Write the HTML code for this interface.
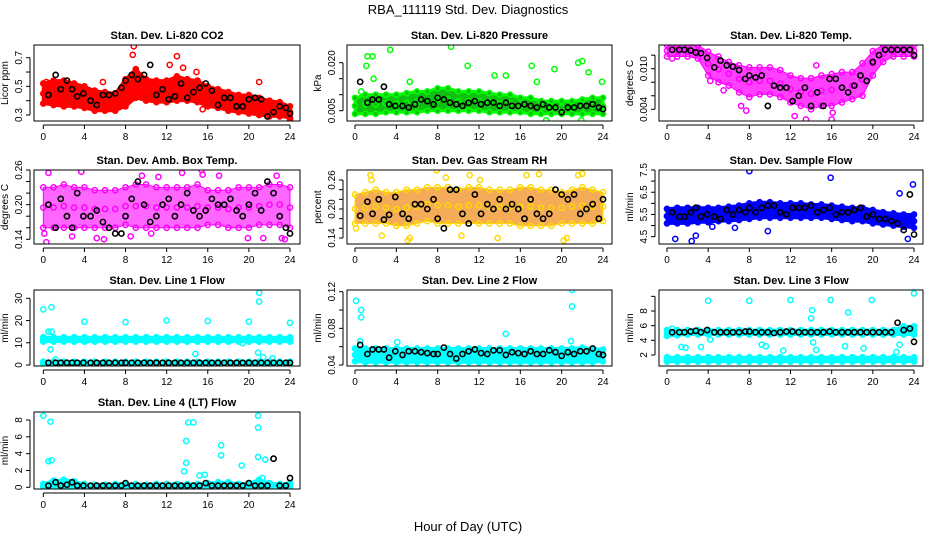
<!DOCTYPE html>
<html><head><meta charset="utf-8"><style>
body{margin:0;background:#fff}
svg{display:block;font-family:"Liberation Sans",sans-serif}
</style></head><body>
<svg id="c" width="936" height="540" viewBox="0 0 936 540">
<text x="468" y="14" text-anchor="middle" font-size="13">RBA_111119  Std. Dev. Diagnostics</text>
<text x="468" y="531" text-anchor="middle" font-size="13">Hour of Day (UTC)</text>
</svg>
<script>
const hours=[0,1,2,3,4,5,6,7,8,9,10,11,12,13,14,15,16,17,18,19,20,21,22,23,24];
const xTicks=[0,4,8,12,16,20,24];
const blkX=[0.5,1.2,1.7,2.3,2.8,3.3,3.9,4.6,5.2,5.8,6.4,7.0,7.6,8.0,8.6,9.2,9.8,10.4,11.0,11.6,12.2,12.8,13.4,14.0,14.6,15.2,15.8,16.4,17.0,17.6,18.2,18.8,19.4,20.0,20.6,21.2,21.8,22.4,23.0,23.6,24.0];

const co2Lo=[.38,.37,.36,.36,.35,.33,.33,.33,.36,.42,.40,.39,.39,.40,.40,.39,.36,.35,.33,.32,.31,.30,.29,.29,.28];
const co2Hi=[.52,.54,.54,.52,.50,.47,.46,.45,.55,.62,.55,.54,.54,.57,.55,.54,.50,.48,.46,.44,.44,.42,.40,.39,.36];
const co2OutX=[8.8,8.7,13,12.3,13.6,21,24,15.5,14.9,0.3,5.8];
const co2OutY=[.78,.72,.71,.65,.63,.53,.27,.34,.60,.53,.53];
const co2Blk=[.44,.58,.48,.54,.48,.43,.45,.40,.37,.44,.44,.45,.49,.54,.58,.55,.58,.65,.44,.48,.41,.43,.52,.42,.46,.49,.52,.47,.37,.42,.42,.36,.36,.41,.42,.41,.29,.32,.36,.35,.31];

const presLo=[.004,.004,.004,.0045,.0045,.0045,.0045,.005,.005,.005,.005,.005,.005,.0045,.0045,.0045,.0045,.004,.004,.004,.004,.004,.004,.004,.004];
const presHi=[.009,.010,.010,.010,.010,.0105,.011,.011,.012,.012,.011,.011,.011,.0105,.010,.010,.009,.009,.008,.008,.008,.008,.0085,.009,.009];
const presOutX=[1.2,1.7,1.1,3.4,1.8,9.3,10.9,13.5,14.6,17.1,17.6,19.3,21.6,22,22.6,23.9,18.5,21.9,0.6,5.3];
const presOutY=[.022,.022,.019,.024,.015,.025,.019,.016,.016,.019,.014,.018,.020,.0205,.017,.014,.002,.002,.011,.014];
const presBlk=[.014,.0075,.0085,.0085,.0125,.007,.0065,.0065,.006,.007,.0085,.008,.007,.009,.0085,.0075,.007,.0065,.0075,.008,.007,.0075,.0075,.0065,.0075,.0065,.0065,.007,.0065,.006,.007,.006,.006,.0045,.006,.006,.0065,.0065,.007,.006,.0055];

const tempLo=[.0118,.0118,.0118,.0115,.009,.008,.0075,.0065,.0058,.0062,.0062,.0058,.005,.0045,.004,.0045,.0045,.005,.0055,.006,.009,.011,.0118,.0118,.0118];
const tempHi=[.0135,.0135,.0135,.0135,.0125,.0118,.011,.0105,.0102,.0102,.0102,.0098,.009,.0086,.0086,.009,.0092,.0095,.0095,.0108,.0126,.0135,.0135,.0135,.0135];
const tempOutX=[0.5,4.2,5.5,7.2,7.7,13.5,16,16.1,12.4,14.5];
const tempOutY=[.0115,.0082,.0068,.0045,.0038,.0025,.0025,.0035,.0030,.0105];
const tempBlk=[.0128,.0128,.0128,.0127,.0124,.0123,.0116,.0102,.0112,.0105,.0103,.0098,.0085,.009,.0087,.009,.0045,.0075,.0072,.0072,.0052,.006,.0072,.0045,.0065,.0045,.0085,.0085,.0072,.0065,.0075,.009,.0082,.011,.012,.0128,.0128,.0128,.0128,.0128,.012];

const ambLo=[.16,.16,.16,.16,.16,.16,.16,.16,.165,.16,.16,.16,.16,.16,.16,.16,.165,.165,.16,.16,.16,.165,.165,.165,.16];
const ambHi=[.23,.23,.235,.23,.23,.225,.225,.225,.23,.235,.235,.23,.23,.23,.23,.235,.225,.225,.225,.23,.23,.23,.235,.235,.23];
const ambOutX=[0.1,0.3,0.5,3.7,5.2,5.9,9.6,10.5,11.2,13.5,15.4,15.5,17.1,19.9,21.4,22.7,23.2,23.5,2.8,8.5];
const ambOutY=[.15,.135,.255,.257,.142,.14,.25,.15,.248,.255,.26,.252,.25,.142,.142,.25,.142,.14,.145,.145];
const ambBlk=[.20,.16,.21,.18,.16,.22,.18,.18,.19,.17,.16,.15,.15,.18,.21,.24,.20,.17,.18,.20,.21,.18,.20,.22,.19,.18,.19,.21,.20,.20,.21,.19,.18,.20,.22,.19,.24,.22,.18,.16,.15];

const rhLo=[.17,.17,.17,.17,.165,.165,.17,.175,.17,.17,.17,.17,.17,.17,.17,.17,.165,.165,.165,.165,.17,.17,.17,.17,.175];
const rhHi=[.23,.235,.24,.235,.235,.24,.24,.245,.245,.245,.24,.245,.245,.24,.24,.24,.245,.245,.24,.24,.235,.24,.245,.24,.235];
const rhOutX=[0.1,1.5,1.6,5.1,5.3,7.9,8.8,11.1,12.1,13.8,16.6,17.8,20.2,20.5,21.6,22.0,2.6,10.3];
const rhOutY=[.16,.27,.26,.135,.14,.28,.265,.27,.26,.14,.27,.272,.135,.14,.27,.273,.145,.145];
const rhBlk=[.186,.215,.19,.22,.178,.188,.225,.19,.18,.21,.21,.20,.22,.18,.16,.24,.24,.19,.17,.23,.19,.21,.20,.22,.20,.21,.20,.18,.22,.19,.18,.19,.24,.23,.22,.23,.19,.20,.21,.18,.22];

const flowLo=[5.1,5.1,5.1,5.15,5.15,5.2,5.2,5.25,5.3,5.35,5.35,5.35,5.35,5.35,5.35,5.35,5.3,5.25,5.2,5.2,5.1,5.05,5.0,4.95,4.9];
const flowHi=[5.75,5.8,5.8,5.8,5.8,5.8,5.85,5.9,6.0,6.05,6.05,6.0,6.0,6.0,5.95,5.95,5.9,5.85,5.8,5.8,5.7,5.6,5.55,5.5,5.5];
const flowOutX=[8,15.9,23.9,22.6,0.8,2.4,2.8,9.8,6.6,4.4,23.4];
const flowOutY=[7.45,7.15,6.85,6.45,4.4,4.3,4.55,4.75,4.9,4.95,4.4];
const flowBlk=[5.6,5.4,5.4,5.6,5.8,5.4,5.5,5.4,5.3,5.7,5.5,5.7,5.6,5.8,5.6,5.8,5.9,5.9,5.6,5.5,5.8,5.8,5.8,5.9,5.6,5.7,5.8,5.5,5.6,5.6,5.7,5.8,5.4,5.5,5.3,5.3,5.2,5.1,4.8,6.4,4.6];

const l1Lo=[10.5,10.5,10.5,10.5,10.5,10.5,10.5,10.5,10.5,10.5,10.5,10.5,10.5,10.5,10.5,10.5,10.5,10.5,10.5,10.5,10.5,10.5,10.5,10.5,10.5];
const l1Hi=[12.5,12.5,12.5,12.5,12.5,12.5,12.5,12.5,12.5,12.5,12.5,12.5,12.5,12.5,12.5,12.5,12.5,12.5,12.5,12.5,12.5,12.5,12.5,12.5,12.5];
const l1Lo2=[0.5,0.5,0.5,0.5,0.5,0.5,0.5,0.5,0.5,0.5,0.5,0.5,0.5,0.5,0.5,0.5,0.5,0.5,0.5,0.5,0.5,0.5,0.5,0.5,0.5];
const l1Hi2=[1.5,1.5,1.5,1.5,1.5,1.5,1.5,1.5,1.5,1.5,1.5,1.5,1.5,1.5,1.5,1.5,1.5,1.5,1.5,1.5,1.5,1.5,1.5,1.5,1.5];
const l1OutX=[0,0.8,0.5,0.8,0.7,1.2,4,8,12,14.8,16,19.4,20,21,21,20.9,21.4,22.3,24];
const l1OutY=[25,26,15,15,7,2.5,19.5,19.3,20,5,19.8,9.8,19.5,32.5,28.5,5.5,3.5,3,19];
const l1Blk=[1,1,1,1,1,1,1,1,1,1,1,1,1,1,1,1,1,1,1,1,1,1,1,1,1,1,1,1,1,1,1,1,1,1,1,1,1,1,1,1,1];

const l2Lo=[.044,.043,.043,.043,.043,.043,.043,.043,.043,.043,.043,.043,.043,.043,.043,.043,.043,.043,.043,.043,.043,.043,.043,.043,.044];
const l2Hi=[.058,.058,.058,.058,.058,.058,.058,.058,.058,.058,.058,.058,.058,.058,.058,.058,.058,.058,.058,.058,.058,.058,.059,.058,.057];
const l2OutX=[0.1,0.6,0.6,0.5,4.1,14.6,21,21,20.9];
const l2OutY=[.11,.10,.092,.066,.065,.074,.122,.104,.066];
const l2Blk=[.062,.052,.057,.057,.057,.048,.055,.051,.055,.055,.054,.053,.052,.052,.059,.052,.047,.052,.055,.057,.053,.052,.056,.056,.051,.054,.053,.052,.055,.052,.052,.056,.054,.050,.054,.052,.055,.055,.058,.052,.051];

const l3Lo=[4.6,4.7,4.8,4.8,4.8,4.8,4.8,4.8,4.8,4.8,4.8,4.8,4.8,4.8,4.8,4.8,4.8,4.8,4.8,4.8,4.8,4.8,4.8,4.8,4.8];
const l3Hi=[5.4,5.4,5.4,5.4,5.4,5.4,5.4,5.4,5.4,5.4,5.4,5.4,5.4,5.4,5.4,5.4,5.4,5.4,5.4,5.4,5.4,5.4,5.4,5.9,5.9];
const l3Lo2=[1.1,1.1,1.1,1.1,1.1,1.1,1.1,1.1,1.1,1.1,1.1,1.1,1.1,1.1,1.1,1.1,1.1,1.1,1.1,1.1,1.1,1.1,1.1,1.1,1.1];
const l3Hi2=[1.7,1.7,1.7,1.7,1.7,1.7,1.7,1.7,1.7,1.7,1.7,1.7,1.7,1.7,1.7,1.7,1.7,1.7,1.7,1.7,1.7,1.7,1.7,1.7,1.7];
const l3OutX=[4,8,12,15.9,19.9,24,14.1,14,17.6,1.4,1.8,3.3,9.2,9.6,11.3,14.2,14.5,17.3,19.1,22.3,22.6,0.5,4.2];
const l3OutY=[9.4,9.4,9.5,9.5,9.5,10.4,8.1,7,7.8,3.1,3,3.1,3.4,3.2,2.6,3.7,2.7,3.2,2.9,2.4,3.4,5.6,4.1];
const l3Blk=[5.1,5.1,5.1,5.2,5.3,5.1,5.4,5.1,5.1,5.1,5.1,5.1,5.2,5.2,5.1,5.1,5.1,5.0,5.1,5.2,5.2,5.1,5.1,5.1,5.1,5.1,5.2,5.1,5.1,5.1,5.1,5.1,5.1,5.1,5.1,5.1,5.1,6.4,5.4,5.6,3.8];

const l4Lo=[0,0,0,0,0,0,0,0,0,0,0,0,0,0,0,0,0,0,0,0,0,0,0,0,0];
const l4Hi=[0.4,0.8,0.9,0.7,0.4,0.3,0.3,0.4,0.4,0.4,0.3,0.4,0.4,0.4,0.4,0.4,0.5,0.6,0.6,0.4,0.5,0.9,0.5,0.4,0.5];
const l4OutX=[0,0.7,0.5,0.8,14.1,13.9,13.9,13.7,14.6,15.2,15.7,17.3,17.3,19.3,20.9,20.9,20.9,21.3,21.6];
const l4OutY=[8.5,7.8,3.1,3.2,7.7,5.5,2.9,1.9,7.7,1.4,1.5,5,3.8,2.6,8.5,7.1,3.6,1.1,3.3];
const l4Blk=[.2,.6,.2,.3,.6,.2,.2,.2,.2,.2,.2,.2,.2,.5,.2,.2,.2,.2,.2,.2,.2,.2,.2,.2,.2,.2,.5,.2,.2,.2,.2,.2,.2,.5,.2,.2,.2,3.4,.2,.2,1.1];

const NS='http://www.w3.org/2000/svg';
const svg=document.getElementById('c');
function mk(tag,attrs,parent){const e=document.createElementNS(NS,tag);for(const k in attrs)e.setAttribute(k,attrs[k]);(parent||svg).appendChild(e);return e;}
const cols=[[34,300,43.3,290],[347,612,355,603],[659,923,667,914]];
const rows=[[45,121],[170,244],[290,366],[412,489]];

function panel(o){
  const [bl,br,x0,x24]=cols[o.c];const [bt,bb]=rows[o.r];
  const g=mk('g',{});
  
  
  const sx=h=>x0+(x24-x0)*h/24;
  const sy=v=>o.p0+(o.p1-o.p0)*(v-o.v0)/(o.v1-o.v0);
  const cid='clip'+o.name;
  const cp=mk('clipPath',{id:cid},g);mk('rect',{x:bl,y:bt,width:br-bl,height:bb-bt},cp);
  const pg=mk('g',{'clip-path':'url(#'+cid+')'},g);
  const fo=o.fo||1;
  o.bands.forEach(([lo,hi])=>{
    let pts=hours.map((h,i)=>sx(h)+','+sy(hi[i]));
    pts=pts.concat(hours.slice().reverse().map((h,j)=>{const i=hours.length-1-j;return sx(h)+','+sy(lo[i]);}));
    const b=mk('polygon',{points:pts.join(' '),fill:o.fill,'fill-opacity':fo,stroke:o.col,'stroke-width':fo<1?1:3,'stroke-linejoin':'round'},pg);
    
    
    hours.forEach((h,i)=>{[lo[i],hi[i],(lo[i]+hi[i])/2].forEach(v=>{
      const c=mk('circle',{cx:sx(h),cy:sy(v),r:2.6,fill:fo<1?'none':o.fill,stroke:o.col,'stroke-width':1.5},pg);
      
      
    });});
  });
  o.ox.forEach((h,i)=>{
    const c=mk('circle',{cx:sx(h),cy:sy(o.oy[i]),r:2.6,fill:'none',stroke:o.col,'stroke-width':1.5},pg);
    
    
  });
  blkX.forEach((h,i)=>{
    const c=mk('circle',{cx:sx(h),cy:sy(o.blk[i]),r:2.6,fill:'none',stroke:'#000','stroke-width':1.6},pg);
    
    
  });
  mk('rect',{x:bl,y:bt,width:br-bl,height:bb-bt,fill:'none',stroke:'#000','stroke-width':1},g);
  const t=mk('text',{x:(bl+br)/2,y:bt-6,'text-anchor':'middle','font-size':11,'font-weight':'bold'},g);t.textContent=o.title;
  
  
  const ay=bb+4;
  mk('line',{x1:sx(0),x2:sx(24),y1:ay,y2:ay,stroke:'#000'},g);
  xTicks.forEach(h=>{mk('line',{x1:sx(h),x2:sx(h),y1:ay,y2:ay+4,stroke:'#000'},g);
    const l=mk('text',{x:sx(h),y:ay+15,'text-anchor':'middle','font-size':10},g);l.textContent=h;
    
    });
  const ax=bl-4;
  mk('line',{x1:ax,x2:ax,y1:sy(o.ticks[0]),y2:sy(o.ticks[o.ticks.length-1]),stroke:'#000'},g);
  o.ticks.forEach((v,i)=>{const y=sy(v);mk('line',{x1:ax,x2:ax-4,y1:y,y2:y,stroke:'#000'},g);
    if(o.labels[i]){const l=mk('text',{x:ax-8,y:y,'text-anchor':'middle','font-size':10,transform:'rotate(-90 '+(ax-8)+' '+y+')'},g);l.textContent=o.labels[i];
    
    }});
  const yl=mk('text',{x:bl-26,y:(bt+bb)/2,'text-anchor':'middle','font-size':10,transform:'rotate(-90 '+(bl-26)+' '+((bt+bb)/2)+')'},g);yl.textContent=o.ylab;
  
  
}
panel({name:'panel-co2',c:0,r:0,title:'Stan. Dev. Li-820 CO2',ylab:'Licor ppm',v0:.3,p0:115,v1:.7,p1:57.7,ticks:[.3,.4,.5,.6,.7],labels:['0.3','','0.5','','0.7'],col:'#ff0000',fill:'#ff0000',bands:[[co2Lo,co2Hi]],ox:co2OutX,oy:co2OutY,blk:co2Blk});
panel({name:'panel-pressure',c:1,r:0,title:'Stan. Dev. Li-820 Pressure',ylab:'kPa',v0:.005,p0:110.7,v1:.020,p1:62.7,ticks:[.005,.010,.015,.020],labels:['0.005','','','0.020'],col:'#00ff00',fill:'#10c010',bands:[[presLo,presHi]],ox:presOutX,oy:presOutY,blk:presBlk});
panel({name:'panel-temp',c:2,r:0,title:'Stan. Dev. Li-820 Temp.',ylab:'degrees C',v0:.004,p0:109.3,v1:.010,p1:68.7,ticks:[.004,.006,.008,.010,.012],labels:['0.004','','','0.010',''],col:'#ff00ff',fill:'#ff00ff',fo:0.75,bands:[[tempLo,tempHi]],ox:tempOutX,oy:tempOutY,blk:tempBlk});
panel({name:'panel-amb-temp',c:0,r:1,title:'Stan. Dev. Amb. Box Temp.',ylab:'degrees C',v0:.14,p0:239.3,v1:.26,p1:170,ticks:[.14,.16,.18,.20,.22,.24,.26],labels:['0.14','','','0.20','','','0.26'],col:'#ff00ff',fill:'#ff00ff',fo:0.6,bands:[[ambLo,ambHi]],ox:ambOutX,oy:ambOutY,blk:ambBlk});
panel({name:'panel-rh',c:1,r:1,title:'Stan. Dev. Gas Stream RH',ylab:'percent',v0:.14,p0:238,v1:.26,p1:180,ticks:[.14,.16,.18,.20,.22,.24,.26],labels:['0.14','','','0.20','','','0.26'],col:'#ffd700',fill:'#f08000',fo:0.65,bands:[[rhLo,rhHi]],ox:rhOutX,oy:rhOutY,blk:rhBlk});
panel({name:'panel-sample-flow',c:2,r:1,title:'Stan. Dev. Sample Flow',ylab:'ml/min',v0:4.5,p0:236.7,v1:7.5,p1:170,ticks:[4.5,5,5.5,6,6.5,7,7.5],labels:['4.5','','5.5','','6.5','','7.5'],col:'#0000ff',fill:'#0000ff',bands:[[flowLo,flowHi]],ox:flowOutX,oy:flowOutY,blk:flowBlk});
panel({name:'panel-line1',c:0,r:2,title:'Stan. Dev. Line 1 Flow',ylab:'ml/min',v0:0,p0:365,v1:30,p1:298.3,ticks:[0,10,20,30],labels:['0','10','20','30'],col:'#00ffff',fill:'#00ffff',bands:[[l1Lo,l1Hi],[l1Lo2,l1Hi2]],ox:l1OutX,oy:l1OutY,blk:l1Blk});
panel({name:'panel-line2',c:1,r:2,title:'Stan. Dev. Line 2 Flow',ylab:'ml/min',v0:.04,p0:365,v1:.12,p1:291.7,ticks:[.04,.06,.08,.10,.12],labels:['0.04','','0.08','','0.12'],col:'#00ffff',fill:'#00ffff',bands:[[l2Lo,l2Hi]],ox:l2OutX,oy:l2OutY,blk:l2Blk});
panel({name:'panel-line3',c:2,r:2,title:'Stan. Dev. Line 3 Flow',ylab:'ml/min',v0:2,p0:355,v1:8,p1:311,ticks:[2,4,6,8,10],labels:['2','4','6','8',''],col:'#00ffff',fill:'#00ffff',bands:[[l3Lo,l3Hi],[l3Lo2,l3Hi2]],ox:l3OutX,oy:l3OutY,blk:l3Blk});
panel({name:'panel-line4',c:0,r:3,title:'Stan. Dev. Line 4 (LT) Flow',ylab:'ml/min',v0:0,p0:487.3,v1:8,p1:420,ticks:[0,2,4,6,8],labels:['0','2','4','6','8'],col:'#00ffff',fill:'#00ffff',bands:[[l4Lo,l4Hi]],ox:l4OutX,oy:l4OutY,blk:l4Blk});
</script>
</body></html>
